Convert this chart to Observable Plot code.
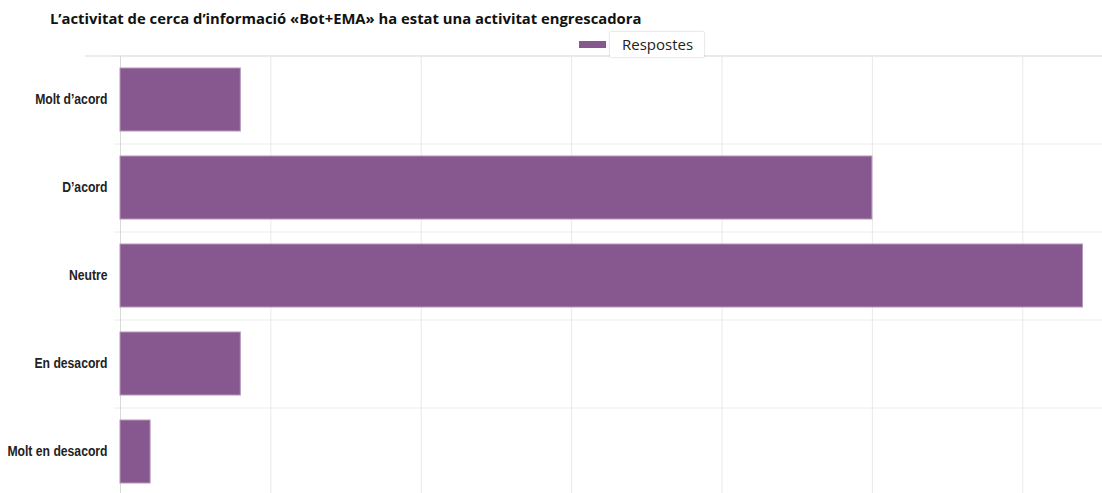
<!DOCTYPE html>
<html>
<head>
<meta charset="utf-8">
<script src="https://cdn.jsdelivr.net/npm/d3@7"></script>
<script src="https://cdn.jsdelivr.net/npm/@observablehq/plot@0.6"></script>
<style>
  html, body { margin: 0; padding: 0; background: #fff; }
  #wrap { position: relative; width: 1102px; height: 493px; overflow: hidden; }
  #title { position: absolute; left: 50px; top: 8px; font-family: "Open Sans", sans-serif; font-weight: 700; font-size: 14.8px; color: #111; white-space: nowrap; }
  #legend { position: absolute; left: 579px; top: 30px; height: 29px; display: flex; align-items: center; font-family: "Open Sans", sans-serif; font-size: 15px; color: #222; }
  #legend .sw { width: 27px; height: 7px; margin-right: 4px; }
  #legend .lab { background: #fff; padding: 2px 11px 3px 12px; box-shadow: 0 0 2px rgba(0,0,0,0.25); }
  #chart { position: absolute; left: 0; top: 0; }
</style>
</head>
<body>
<div id="wrap">
  <div id="chart"></div>
  <div id="title"></div>
  <div id="legend"></div>
</div>
<script>
const titleText = "L’activitat de cerca d’informació «Bot+EMA» ha estat una activitat engrescadora";
const seriesName = "Respostes";
const categories = ["Molt d’acord", "D’acord", "Neutre", "En desacord", "Molt en desacord"];
const values = [4, 25, 32, 4, 1];
const xTicks = [0, 5, 10, 15, 20, 25, 30];
const barColor = "#87588f";

const data = categories.map((c, i) => ({category: c, value: values[i]}));

document.getElementById("title").textContent = titleText;
const leg = document.getElementById("legend");
leg.innerHTML = `<div class="sw" style="background:${barColor}"></div><div class="lab"></div>`;
leg.querySelector(".lab").textContent = seriesName;

const chart = Plot.plot({
  width: 1102,
  height: 493,
  marginLeft: 120,
  marginRight: 0,
  marginTop: 56,
  marginBottom: 0,
  style: {fontFamily: "'Liberation Sans', Arial, sans-serif", background: "#fff", color: "#222"},
  x: {domain: [0, 32.65], axis: null},
  y: {domain: categories, range: [56, 496], paddingInner: 0.28, paddingOuter: 0.14, label: null},
  marks: [
    Plot.gridX(xTicks, {stroke: "#e9e9e9", strokeOpacity: 1}),
    Plot.ruleY(categories, {y: d => d, dy: -44, stroke: "#ececec", insetLeft: -6}),
    Plot.ruleY(categories.slice(0, 1), {y: d => d, dy: -44, stroke: "#e6e6e6", strokeWidth: 1.5, insetLeft: -35}),
    Plot.ruleX([0], {stroke: "#d8d8d8"}),
    Plot.barX(data, {x: "value", y: "category", fill: barColor, stroke: "#b596ba", strokeWidth: 1}),
    Plot.axisY({tickSize: 0, tickPadding: 13, fontSize: 14, fontWeight: "bold", label: null})
  ]
});
// narrow the axis labels to mimic a condensed face
chart.querySelectorAll('g[aria-label="y-axis tick label"] text').forEach(t => {
  const tr = t.getAttribute("transform") || "";
  t.setAttribute("transform", tr + " scale(0.87,1)");
});
document.getElementById("chart").appendChild(chart);
</script>
</body>
</html>
